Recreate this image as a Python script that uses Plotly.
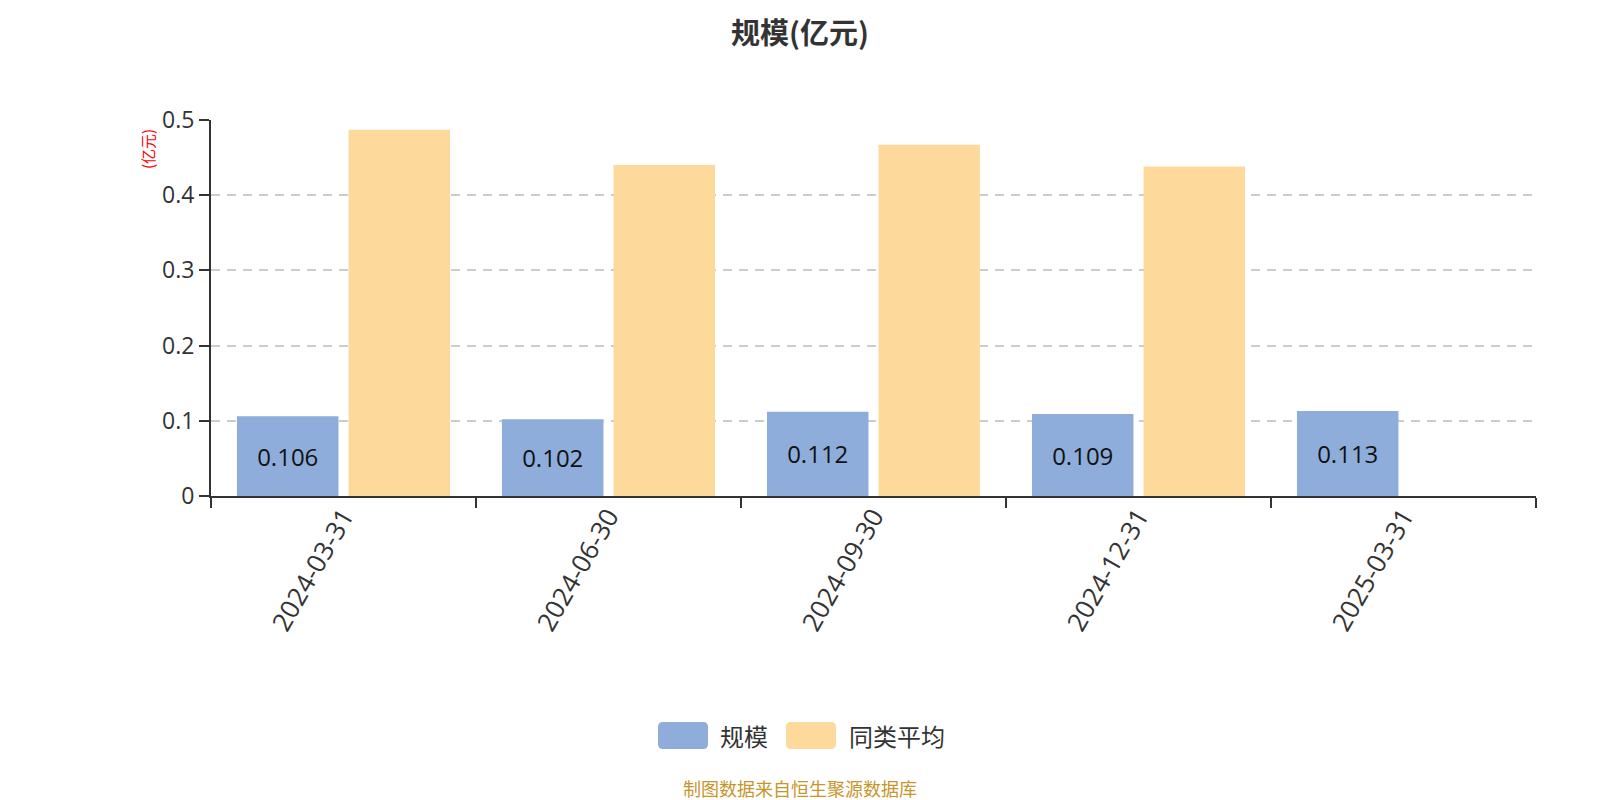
import plotly.graph_objects as go

categories = ["2024-03-31", "2024-06-30", "2024-09-30", "2024-12-31", "2025-03-31"]
scale_values = [0.106, 0.102, 0.112, 0.109, 0.113]
peer_avg_values = [0.487, 0.440, 0.467, 0.438, None]
series_names = ["规模", "同类平均"]
series_colors = ["#8EADDA", "#FDD99B"]
y_ticks = [0, 0.1, 0.2, 0.3, 0.4, 0.5]
y_tick_text = ["0", "0.1", "0.2", "0.3", "0.4", "0.5"]
title_text = "规模(亿元)"
unit_text = "(亿元)"
source_text = "制图数据来自恒生聚源数据库"

FONT = "Open Sans, Noto Sans CJK SC, sans-serif"
CJK = "Noto Sans CJK SC, sans-serif"

# figure size (the page body adds an 8px margin)
W, H = 1584, 792
L, R, T, B = 203, 56, 112, 304
PW, PH = W - L - R, H - T - B


def xp(px):
    return (px - L) / PW


def yp(py):
    return (H - B - py) / PH


fig = go.Figure()
fig.add_trace(go.Bar(
    x=categories, y=scale_values, name=series_names[0],
    marker=dict(color=series_colors[0], line=dict(width=0)),
    text=[f"{v:.3f}" for v in scale_values], textposition="inside",
    insidetextanchor="middle", textfont=dict(size=24, color="#111", family=FONT),
    showlegend=False,
))
fig.add_trace(go.Bar(
    x=categories, y=peer_avg_values, name=series_names[1],
    marker=dict(color=series_colors[1], line=dict(width=0)),
    showlegend=False,
))

fig.update_layout(
    width=W, height=H,
    paper_bgcolor="white", plot_bgcolor="white",
    margin=dict(l=L, r=R, t=T, b=B, pad=0),
    barmode="group", bargap=0.158, bargroupgap=0.09,
    font=dict(family=FONT, color="#333"),
    xaxis=dict(
        type="category", tickson="boundaries", ticks="outside", ticklen=10, tickwidth=2,
        tickcolor="#333", showline=True, linecolor="#333", linewidth=2,
        tickangle=-60, tickfont=dict(size=26, color="#333", family=FONT),
        ticklabelstandoff=-7,
        showgrid=False, fixedrange=True,
    ),
    yaxis=dict(
        range=[0, 0.5], tickvals=y_ticks, ticktext=y_tick_text,
        ticks="outside", ticklen=10, tickwidth=2, tickcolor="#333",
        showline=True, linecolor="#333", linewidth=2,
        showgrid=True, gridcolor="#CCCCCC", griddash="9px,7px", gridwidth=1.8,
        zeroline=False, tickfont=dict(size=23, color="#333", family=FONT),
    ),
)

# chart title
fig.add_annotation(text=f"<b>{title_text}</b>", xref="paper", yref="paper",
                   x=xp(792), y=yp(0), xanchor="center", yanchor="top", showarrow=False,
                   font=dict(size=29, color="#333", family=CJK))

# y-axis unit label
fig.add_annotation(text=unit_text, xref="paper", yref="paper",
                   x=xp(139), y=yp(141),
                   xanchor="center", yanchor="middle", textangle=-90, showarrow=False,
                   font=dict(size=15, color="red", family=CJK))


# custom legend (rounded patches)
def rounded_rect(x0, y0, x1, y1, rx, ry):
    return (f"M {x0+rx},{y0} L {x1-rx},{y0} Q {x1},{y0} {x1},{y0+ry} L {x1},{y1-ry} Q {x1},{y1} {x1-rx},{y1} "
            f"L {x0+rx},{y1} Q {x0},{y1} {x0},{y1-ry} L {x0},{y0+ry} Q {x0},{y0} {x0+rx},{y0} Z")


legend_items = [(650, 700, 710), (778, 828, 839)]
for (px0, px1, tx), name, color in zip(legend_items, series_names, series_colors):
    fig.add_shape(type="path", xref="paper", yref="paper",
                  path=rounded_rect(xp(px0), yp(741), xp(px1), yp(714), 5 / PW, 5 / PH),
                  fillcolor=color, line=dict(width=0))
    fig.add_annotation(text=name, xref="paper", yref="paper", x=xp(tx), y=yp(727),
                       xanchor="left", yanchor="middle", showarrow=False,
                       font=dict(size=24, color="#333", family=CJK))

fig.add_annotation(text=source_text, xref="paper", yref="paper",
                   x=xp(792), y=yp(780),
                   xanchor="center", yanchor="middle", showarrow=False,
                   font=dict(size=18, color="#C8952B", family=CJK))

fig.write_html("out.html")
